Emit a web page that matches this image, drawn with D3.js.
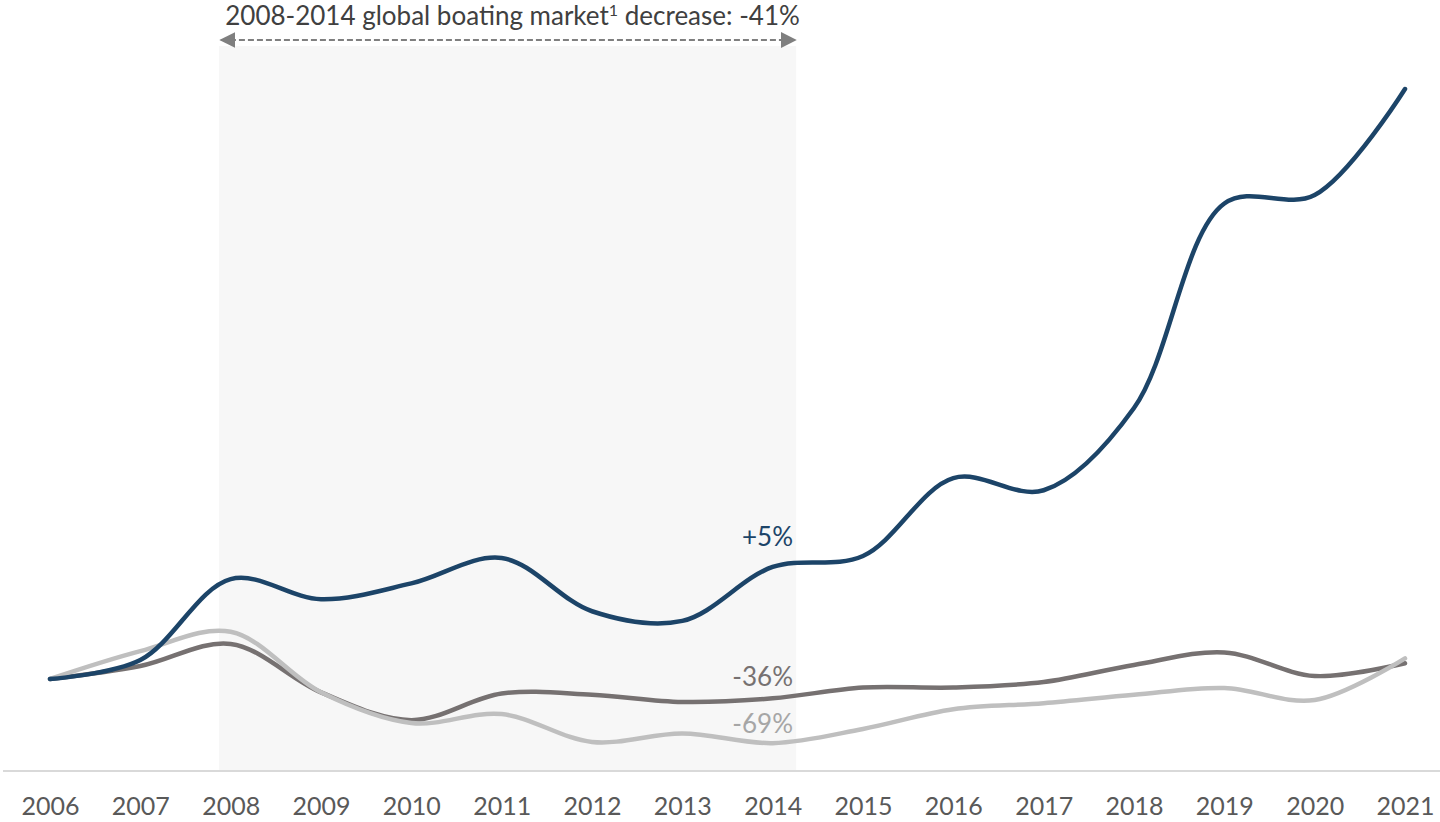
<!DOCTYPE html>
<html>
<head>
<meta charset="utf-8">
<script src="https://cdn.jsdelivr.net/npm/d3@7"></script>
<style>
  body { margin: 0; background: #fff; }
  svg { display: block; font-family: Lato, "Open Sans", sans-serif; }
</style>
</head>
<body>
<div id="chart"></div>
<script>
// index, 2006 = 100
var years = [2006, 2007, 2008, 2009, 2010, 2011, 2012, 2013, 2014, 2015, 2016, 2017, 2018, 2019, 2020, 2021];
var blueSeries  = [100, 115.7, 182.6, 166, 179, 200, 156, 148, 192.6, 201.7, 266, 256, 324, 493, 500, 587.6];
var darkSeries  = [100, 110.7, 129, 89, 66, 88, 87, 81, 84, 93, 93, 97.5, 111.6, 122, 102.5, 113];
var lightSeries = [100, 123, 139, 89, 63.6, 71, 48, 55, 47, 58.7, 75, 80, 87, 92.6, 82.6, 117];
var seriesLabels = ["+5%", "-36%", "-69%"];
var periodStart = 2007.87, periodEnd = 2014.26;
var periodText = "2008-2014 global boating market";
var periodText2 = " decrease: -41%";

var W = 1440, H = 822;
var svg = d3.select("#chart").append("svg")
    .attr("width", W)
    .attr("height", H);

var x = d3.scaleLinear().domain([2006, 2021]).range([50, 1405]);
var y = d3.scaleLinear().domain([0, 600]).range([800, 74]);

// shaded period
svg.append("rect")
    .attr("x", x(periodStart))
    .attr("y", 46)
    .attr("width", x(periodEnd) - x(periodStart))
    .attr("height", 771 - 46)
    .attr("fill", "#f7f7f7");

// baseline
svg.append("line")
    .attr("x1", 3).attr("x2", W)
    .attr("y1", 771).attr("y2", 771)
    .attr("stroke", "#d9d9d9")
    .attr("stroke-width", 2);

// year labels
var xAxis = d3.axisBottom(x)
    .tickValues(years)
    .tickFormat(d3.format("d"))
    .tickSize(0)
    .tickPadding(0);
var gx = svg.append("g")
    .attr("transform", "translate(0,797)")
    .call(xAxis);
gx.select(".domain").remove();
gx.selectAll("text")
    .attr("dy", "0.71em")
    .attr("font-size", 25)
    .attr("font-family", "Lato, 'Open Sans', sans-serif")
    .attr("fill", "#595959");

// arrow annotation
var defs = svg.append("defs");
defs.append("marker")
    .attr("id", "arr")
    .attr("viewBox", "0 0 10 10")
    .attr("refX", 9).attr("refY", 5)
    .attr("markerWidth", 16).attr("markerHeight", 16)
    .attr("markerUnits", "userSpaceOnUse")
    .attr("orient", "auto-start-reverse")
    .append("path")
    .attr("d", "M0,0 L10,5 L0,10 Z")
    .attr("fill", "#7f7f7f");

svg.append("line")
    .attr("x1", x(periodStart) + 2).attr("x2", x(periodEnd) - 1)
    .attr("y1", 40).attr("y2", 40)
    .attr("stroke", "#7f7f7f")
    .attr("stroke-width", 2)
    .attr("stroke-dasharray", "6,3")
    .attr("marker-start", "url(#arr)")
    .attr("marker-end", "url(#arr)");

var t = svg.append("text")
    .attr("x", (x(periodStart) + x(periodEnd)) / 2 + 5)
    .attr("y", 25)
    .attr("text-anchor", "middle")
    .attr("font-size", 26)
    .attr("fill", "#404040");
t.append("tspan").text(periodText);
t.append("tspan").text("1").attr("font-size", 16).attr("dy", -9);
t.append("tspan").text(periodText2).attr("dy", 9);

// lines
var line = d3.line()
    .x(function (d, i) { return x(years[i]); })
    .y(function (d) { return y(d); })
    .curve(d3.curveCatmullRom.alpha(0.5));

var series = [
    { values: darkSeries,  color: "#767171", label: seriesLabels[1], labelColor: "#767171", ly: 686 },
    { values: lightSeries, color: "#bfbfbf", label: seriesLabels[2], labelColor: "#a6a6a6", ly: 733 },
    { values: blueSeries,  color: "#1c4468", label: seriesLabels[0], labelColor: "#1c4468", ly: 546 }
];

svg.selectAll(".series")
    .data(series)
    .enter()
    .append("path")
    .attr("class", "series")
    .attr("d", function (d) { return line(d.values); })
    .attr("fill", "none")
    .attr("stroke", function (d) { return d.color; })
    .attr("stroke-width", 4.5)
    .attr("stroke-linecap", "round")
    .attr("stroke-linejoin", "round");

svg.selectAll(".lbl")
    .data(series)
    .enter()
    .append("text")
    .attr("class", "lbl")
    .attr("x", 793)
    .attr("y", function (d) { return d.ly; })
    .attr("text-anchor", "end")
    .attr("font-size", 26)
    .attr("fill", function (d) { return d.labelColor; })
    .text(function (d) { return d.label; });
</script>
</body>
</html>
